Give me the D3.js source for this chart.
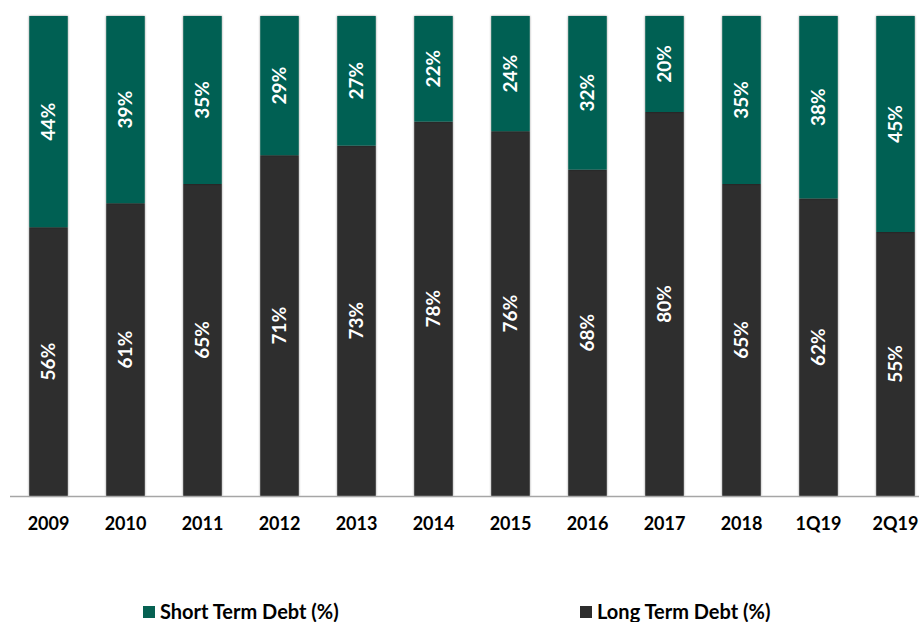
<!DOCTYPE html>
<html>
<head>
<meta charset="utf-8">
<script src="https://cdn.jsdelivr.net/npm/d3@7"></script>
<style>
  body { margin: 0; background: #fff; }
  svg { display: block; font-family: Lato, "Open Sans", sans-serif; }
</style>
</head>
<body>
<div id="chart"></div>
<script>
// chart data
const categories = ['2009', '2010', '2011', '2012', '2013', '2014', '2015', '2016', '2017', '2018', '1Q19', '2Q19'];
const shortTerm = [44, 39, 35, 29, 27, 22, 24, 32, 20, 35, 38, 45];
const longTerm = [56, 61, 65, 71, 73, 78, 76, 68, 80, 65, 62, 55];
const seriesNames = ['Short Term Debt (%)', 'Long Term Debt (%)'];

const width = 919, height = 622;
const green = '#066152', dark = '#2d2d2d';

const svg = d3.select('#chart').append('svg')
    .attr('width', width).attr('height', height);

const defs = svg.append('defs');
const f = defs.append('filter').attr('id', 'shadow')
    .attr('x', '-20%').attr('y', '-5%').attr('width', '140%').attr('height', '110%');
f.append('feDropShadow').attr('dx', 0).attr('dy', 0).attr('stdDeviation', 1)
    .attr('flood-color', '#000').attr('flood-opacity', 0.45);

const x = d3.scaleBand().domain(categories).range([10, 934]).paddingInner(0.5).paddingOuter(0.25);
const y = d3.scaleLinear().domain([0, 100]).range([496, 16]);

const rows = categories.map((c, i) => ({ cat: c, long: longTerm[i], short: shortTerm[i] }));
const stack = d3.stack().keys(['long', 'short'])(rows);
const colors = { long: dark, short: green };

const layers = svg.append('g').selectAll('g').data(stack).join('g')
    .attr('fill', d => colors[d.key]);

layers.selectAll('rect').data(d => d).join('rect')
    .attr('x', d => x(d.data.cat))
    .attr('width', x.bandwidth())
    .attr('y', d => y(d[1]))
    .attr('height', d => y(d[0]) - y(d[1]))
    .attr('filter', 'url(#shadow)');

// value labels, rotated
layers.selectAll('text').data(d => d).join('text')
    .attr('transform', d => {
        const cx = x(d.data.cat) + x.bandwidth() / 2;
        const cy = (y(d[0]) + y(d[1])) / 2;
        return `translate(${cx},${cy}) rotate(-90)`;
    })
    .attr('text-anchor', 'middle')
    .attr('dy', '0.35em')
    .attr('fill', '#fff')
    .attr('font-weight', 'bold')
    .attr('font-size', 19)
    .text(d => (d[1] - d[0]) + '%');

// baseline
svg.append('line')
    .attr('x1', 10).attr('x2', width)
    .attr('y1', 496.5).attr('y2', 496.5)
    .attr('stroke', '#a6a6a6').attr('stroke-width', 1.5);

const xAxis = svg.append('g').attr('transform', 'translate(0,496)')
    .call(d3.axisBottom(x).tickSize(0).tickPadding(21));
xAxis.select('.domain').remove();
xAxis.selectAll('text')
    .attr('font-family', 'Lato, "Open Sans", sans-serif')
    .attr('font-size', 18).attr('font-weight', 'bold').attr('fill', '#000');

// legend
const legendX = [143, 580];
const legend = svg.append('g').selectAll('g').data(seriesNames).join('g')
    .attr('transform', (d, i) => `translate(${legendX[i]},606)`);
legend.append('rect').attr('width', 12).attr('height', 12)
    .attr('fill', (d, i) => i === 0 ? green : dark);
legend.append('text').attr('x', 17).attr('y', 13)
    .attr('font-size', 20).attr('font-weight', 'bold').attr('fill', '#000')
    .text(d => d);
</script>
</body>
</html>
